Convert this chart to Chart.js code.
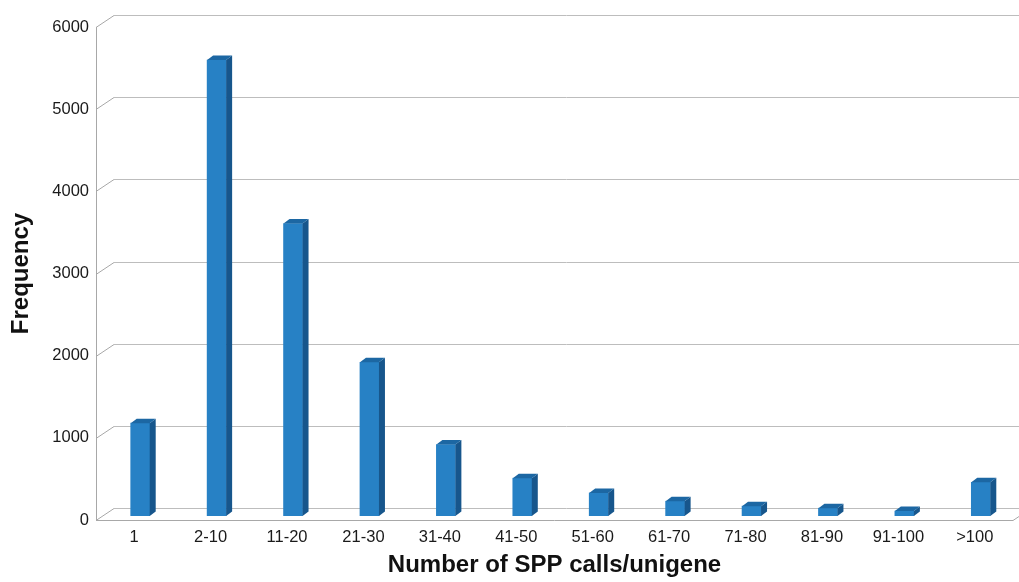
<!DOCTYPE html>
<html>
<head>
<meta charset="utf-8">
<script src="https://cdn.jsdelivr.net/npm/chart.js@4/dist/chart.umd.min.js"></script>
<style>
  html, body { margin: 0; padding: 0; background: #fff; }
  #wrap { width: 1019px; height: 582px; }
</style>
</head>
<body>
<div id="wrap"><canvas id="myChart" width="1019" height="582"></canvas></div>
<script>
  const labels = ['1', '2-10', '11-20', '21-30', '31-40', '41-50', '51-60', '61-70', '71-80', '81-90', '91-100', '>100'];
  const valores = [1130, 5550, 3560, 1870, 870, 460, 280, 180, 120, 95, 60, 410];
  const yTicks = [0, 1000, 2000, 3000, 4000, 5000, 6000];

  // offsets of the fake 3D box (back wall) and of the bars' depth
  const wallDx = 18, wallDy = -12;
  const barDx = 6, barDy = -4;

  const box3d = {
    id: 'box3d',
    beforeDatasetsDraw(chart) {
      const ctx = chart.ctx;
      const y = chart.scales.y;
      const area = chart.chartArea;
      ctx.save();
      ctx.lineWidth = 1;
      // back wall grid + little diagonals from the front axis
      yTicks.forEach(function (t) {
        const py = Math.round(y.getPixelForValue(t)) + 0.5;
        ctx.strokeStyle = '#bdbdbd';
        ctx.beginPath();
        ctx.moveTo(area.left + wallDx, py + wallDy);
        ctx.lineTo(chart.width, py + wallDy);
        ctx.stroke();
        ctx.strokeStyle = '#a8a8a8';
        ctx.beginPath();
        ctx.moveTo(area.left, py);
        ctx.lineTo(area.left + wallDx, py + wallDy);
        ctx.stroke();
      });
      // front left axis
      const x0 = Math.round(area.left) + 0.5;
      ctx.strokeStyle = '#a8a8a8';
      ctx.beginPath();
      ctx.moveTo(x0, y.getPixelForValue(6000));
      ctx.lineTo(x0, y.getPixelForValue(0));
      ctx.stroke();
      // floor front edge
      const yb = Math.round(y.getPixelForValue(0)) + 0.5;
      ctx.beginPath();
      ctx.moveTo(area.left, yb);
      ctx.lineTo(area.right, yb);
      ctx.lineTo(area.right + wallDx, yb + wallDy);
      ctx.stroke();
      ctx.restore();

      ctx.save();
      ctx.translate(barDx, barDy);
    },
    afterDatasetsDraw(chart) {
      const ctx = chart.ctx;
      const meta = chart.getDatasetMeta(0);
      meta.data.forEach(function (bar) {
        const p = bar.getProps(['x', 'y', 'base', 'width'], true);
        const l = p.x - p.width / 2, r = p.x + p.width / 2;
        const dx = 6, dy = -4.5;
        // side face
        ctx.fillStyle = '#17568c';
        ctx.beginPath();
        ctx.moveTo(r, p.y);
        ctx.lineTo(r + dx, p.y + dy);
        ctx.lineTo(r + dx, p.base + dy);
        ctx.lineTo(r, p.base);
        ctx.closePath();
        ctx.fill();
        // top face
        ctx.fillStyle = '#1c67a3';
        ctx.beginPath();
        ctx.moveTo(l, p.y);
        ctx.lineTo(l + dx, p.y + dy);
        ctx.lineTo(r + dx, p.y + dy);
        ctx.lineTo(r, p.y);
        ctx.closePath();
        ctx.fill();
      });
      ctx.restore();
    }
  };

  const data = {
    labels: labels,
    datasets: [{
      label: 'Frequency',
      backgroundColor: '#2781c5',
      borderWidth: 0,
      barThickness: 19,
      data: valores,
    }]
  };

  const config = {
    type: 'bar',
    data: data,
    plugins: [box3d],
    options: {
      responsive: false,
      animation: false,
      layout: { padding: { top: 27, right: 6, left: 0, bottom: 0 } },
      plugins: {
        legend: { display: false },
        tooltip: { enabled: false }
      },
      scales: {
        x: {
          grid: { display: false, drawTicks: false },
          border: { display: false },
          ticks: {
            color: '#1a1a1a',
            padding: 8,
            maxRotation: 0,
            autoSkip: false,
            font: { family: 'Liberation Sans, Arial', size: 16.5 }
          },
          title: {
            display: true,
            text: 'Number of SPP calls/unigene',
            color: '#111',
            font: { family: 'Liberation Sans, Arial', size: 24, weight: 'bold' },
            padding: { top: 4, bottom: 2 }
          },
          afterFit: function (s) { s.height = 62; }
        },
        y: {
          min: 0,
          max: 6000,
          grid: { display: false, drawTicks: false },
          border: { display: false },
          ticks: {
            stepSize: 1000,
            color: '#1a1a1a',
            padding: 7,
            font: { family: 'Liberation Sans, Arial', size: 16.5 },
            callback: function (v) { return String(v); }
          },
          title: {
            display: true,
            text: 'Frequency',
            color: '#111',
            font: { family: 'Liberation Sans, Arial', size: 24, weight: 'bold' },
            padding: { top: 7, bottom: 4 }
          },
          afterFit: function (s) { s.width = 96; }
        }
      }
    }
  };

  const myChart = new Chart(
    document.getElementById('myChart'),
    config
  );
</script>
</body>
</html>
